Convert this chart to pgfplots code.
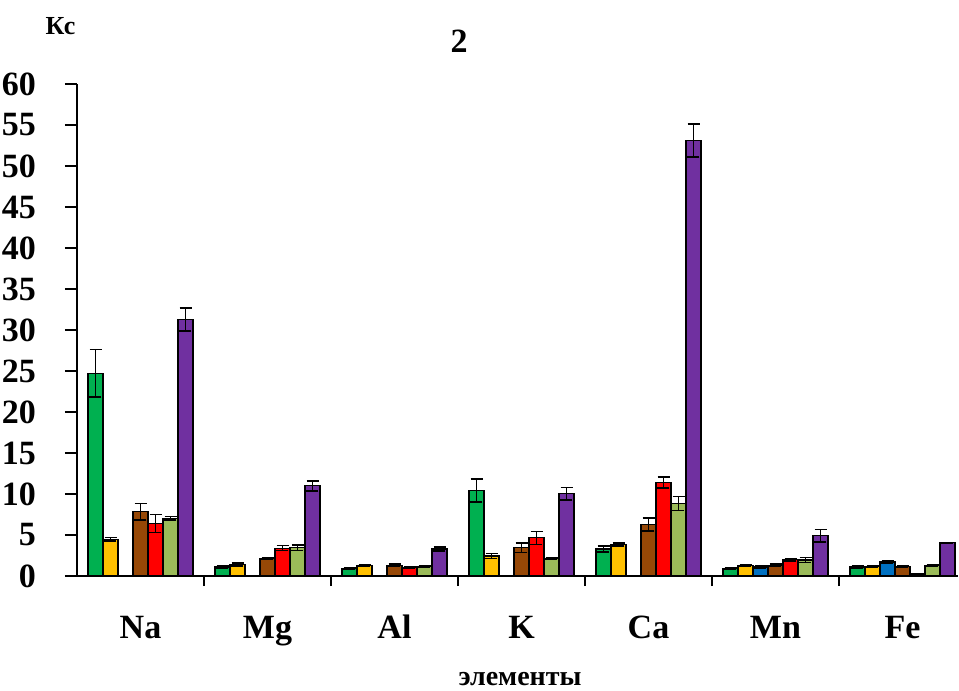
\documentclass[border=0pt]{standalone}
\usepackage{fontspec}
\setmainfont{Liberation Serif}
\usepackage{pgfplots}
\pgfplotsset{compat=1.18}
\definecolor{cGreen}{HTML}{00B050}
\definecolor{cYellow}{HTML}{FFC000}
\definecolor{cBlue}{HTML}{0070C0}
\definecolor{cBrown}{HTML}{974806}
\definecolor{cRed}{HTML}{FF0000}
\definecolor{cLGreen}{HTML}{9BBB59}
\definecolor{cPurple}{HTML}{7030A0}
\begin{document}
\begin{tikzpicture}
\useasboundingbox (-38.5pt,-57.5pt) rectangle (441pt,288pt);
\begin{axis}[
  at={(0,0)}, anchor=south west,
  scale only axis, width=440.5pt, height=246pt,
  xmin=-0.5, xmax=6.437, ymin=0, ymax=60,
  axis lines=left, axis line style={-, line width=0.8pt},
  ybar=0pt, bar width=7.5pt,
  xtick={0,...,6}, xticklabels={Na,Mg,Al,K,Ca,Mn,Fe},
  minor xtick={0.5,1.5,...,5.5},
  every major x tick/.append style={draw=none},
  ytick={0,5,...,60},
  tick align=outside,
  major tick length=6pt, minor tick length=5pt,
  tick style={line width=0.8pt, black},
  /pgf/number format/assume math mode=true,
  yticklabel style={font=\fontsize{17}{17}\selectfont\bfseries, xshift=-11pt},
  xticklabel style={font=\fontsize{17}{17}\selectfont\bfseries, anchor=base, yshift=-25pt},
  error bars/error bar style={line width=0.8pt, black},
  error bars/error mark options={rotate=90, mark size=3pt, line width=0.8pt, black},
  clip=false,
]
\addplot[fill=cGreen, draw=black, line width=0.6pt, error bars/.cd, y dir=both, y explicit] coordinates {
(0,24.7) +- (0,2.9) (1,1.1) +- (0,0.1) (2,0.9) +- (0,0.05) (3,10.4) +- (0,1.4) (4,3.3) +- (0,0.35) (5,0.9) +- (0,0.05) (6,1.1) +- (0,0.1)};
\addplot[fill=cYellow, draw=black, line width=0.6pt, error bars/.cd, y dir=both, y explicit] coordinates {
(0,4.5) +- (0,0.2) (1,1.4) +- (0,0.2) (2,1.25) +- (0,0.1) (3,2.45) +- (0,0.3) (4,3.85) +- (0,0.2) (5,1.3) +- (0,0.1) (6,1.15) +- (0,0.1)};
\addplot[fill=cBlue, draw=black, line width=0.6pt, error bars/.cd, y dir=both, y explicit] coordinates {
(5,1.1) +- (0,0.1) (6,1.7) +- (0,0.1)};
\addplot[fill=cBrown, draw=black, line width=0.6pt, error bars/.cd, y dir=both, y explicit] coordinates {
(0,7.85) +- (0,1.0) (1,2.1) +- (0,0.1) (2,1.3) +- (0,0.15) (3,3.45) +- (0,0.6) (4,6.3) +- (0,0.8) (5,1.3) +- (0,0.15) (6,1.2) +- (0,0.1)};
\addplot[fill=cRed, draw=black, line width=0.6pt, error bars/.cd, y dir=both, y explicit] coordinates {
(0,6.4) +- (0,1.1) (1,3.4) +- (0,0.3) (2,1.0) +- (0,0.1) (3,4.65) +- (0,0.8) (4,11.4) +- (0,0.65) (5,2.0) +- (0,0.15) (6,0.25) +- (0,0.05)};
\addplot[fill=cLGreen, draw=black, line width=0.6pt, error bars/.cd, y dir=both, y explicit] coordinates {
(0,7.05) +- (0,0.2) (1,3.45) +- (0,0.35) (2,1.15) +- (0,0.1) (3,2.1) +- (0,0.1) (4,8.85) +- (0,0.85) (5,1.95) +- (0,0.3) (6,1.3) +- (0,0.05)};
\addplot[fill=cPurple, draw=black, line width=0.6pt, error bars/.cd, y dir=both, y explicit] coordinates {
(0,31.3) +- (0,1.4) (1,11.0) +- (0,0.6) (2,3.3) +- (0,0.25) (3,10.05) +- (0,0.75) (4,53.1) +- (0,2.0) (5,4.9) +- (0,0.75) (6,4.05) +- (0,0.05)};
\end{axis}
\node[anchor=base, font=\fontsize{17}{17}\selectfont\bfseries] at (191pt,261.5pt) {2};
\node[anchor=base, font=\fontsize{13}{13}\selectfont\bfseries] at (-8.25pt,270.5pt) {Кс};
\node[anchor=base, font=\fontsize{14}{14}\selectfont\bfseries] at (221.5pt,-54.5pt) {элементы};
\end{tikzpicture}
\end{document}
